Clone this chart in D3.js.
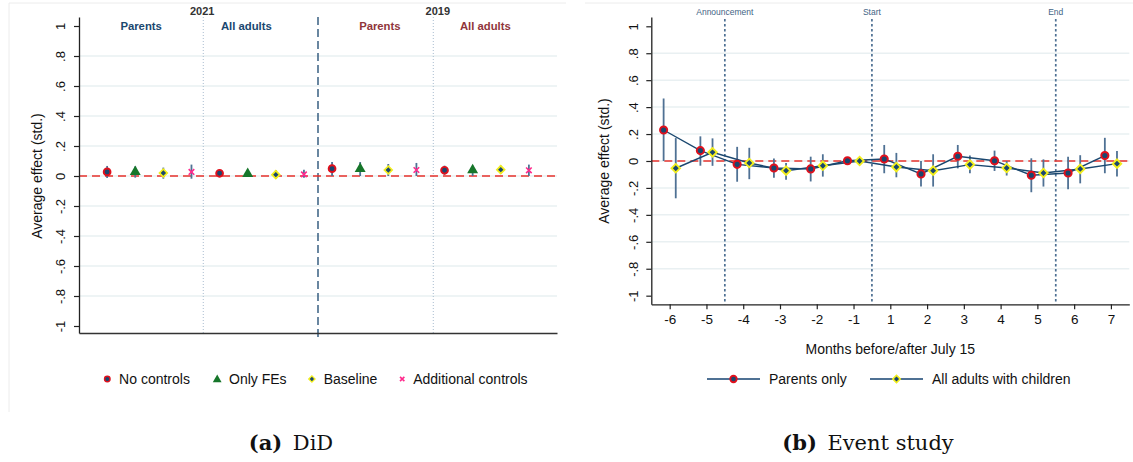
<!DOCTYPE html>
<html><head><meta charset="utf-8">
<script src="https://cdn.jsdelivr.net/npm/d3@7"></script>
<style>
body{margin:0;background:#fff;}
svg{display:block;font-family:"Liberation Sans",Arial,sans-serif;}
</style>
</head><body>
<svg id="c" width="1133" height="462"></svg>
<script>
// ---------- DATA: panel (a) DiD ----------
const specs = ["No controls", "Only FEs", "Baseline", "Additional controls"];
const groups = ["2021 Parents", "2021 All adults", "2019 Parents", "2019 All adults"];
const sectionLabels = ["Parents", "All adults", "Parents", "All adults"];
const sectionLabelPos = [2.21, 5.95, 10.7, 14.45];
const yearLabels = ["2021", "2019"];
const yearLabelPos = [4.38, 12.76];
const dividerPos = [4.42, 8.5, 12.6];
// estimates [group][spec]
const didEst = [[0.027, 0.033, 0.020, 0.027], [0.018, 0.020, 0.009, 0.011], [0.049, 0.053, 0.040, 0.040], [0.038, 0.044, 0.042, 0.038]];
const didLo  = [[-0.013, -0.011, -0.018, -0.018], [-0.005, 0.003, -0.018, -0.011], [0.000, 0.000, 0.000, 0.000], [0.009, 0.000, 0.016, 0.000]];
const didHi  = [[0.067, 0.064, 0.056, 0.076], [0.040, 0.035, 0.040, 0.042], [0.093, 0.093, 0.080, 0.087], [0.069, 0.069, 0.069, 0.076]];
const yTickVals = [-1, -0.8, -0.6, -0.4, -0.2, 0, 0.2, 0.4, 0.6, 0.8, 1];

// ---------- DATA: panel (b) Event study ----------
const months = [-6, -5, -4, -3, -2, -1, 1, 2, 3, 4, 5, 6, 7];
const parentsEst = [0.230, 0.077, -0.025, -0.052, -0.059, 0.002, 0.015, -0.096, 0.035, 0.002, -0.106, -0.089, 0.040];
const parentsLo  = [0.000, -0.035, -0.154, -0.124, -0.152, 0.002, -0.091, -0.190, -0.055, -0.074, -0.232, -0.210, -0.091];
const parentsHi  = [0.464, 0.183, 0.105, 0.019, 0.032, 0.002, 0.119, 0.000, 0.119, 0.077, 0.020, 0.032, 0.172];
const adultsEst  = [-0.054, 0.064, -0.015, -0.072, -0.035, 0.000, -0.045, -0.072, -0.027, -0.052, -0.089, -0.059, -0.020];
const adultsLo   = [-0.277, -0.036, -0.135, -0.140, -0.116, 0.000, -0.121, -0.190, -0.091, -0.108, -0.190, -0.166, -0.116];
const adultsHi   = [0.170, 0.168, 0.098, -0.015, 0.050, 0.000, 0.060, 0.050, 0.040, 0.000, 0.012, 0.043, 0.074];
const eventLines = ["Announcement", "Start", "End"];
const eventPos = [1.5, 5.5, 10.5];
const seriesNames = ["Parents only", "All adults with children"];

// ---------- STYLE ----------
const NAVY = "#1a476f", RED2019 = "#90353b", CI = "#4f7194", GRID = "#e9f0f2";
const ZERO = "#e8322c", GREEN = "#16762a", YELLOW = "#f2ee1c", PINK = "#ff2a8c", CIRC = "#e0101c";

const svg = d3.select("#c");
const fmtTick = d => { const r = Math.round(d * 10) / 10; if (r === 0) return "0"; return String(r).replace(/^(-?)0\./, "$1."); };

// ============ PANEL A ============
const xL = d3.scaleLinear().domain([0, 17]).range([79, 557]);
const yL = d3.scaleLinear().domain([-1.0467, 1.06]).range([333, 17]);
const gA = svg.append("g");

gA.append("path").attr("d", "M9,412 L9,3 L566,3").attr("fill", "none").attr("stroke", "#ececec").attr("stroke-width", 1);

gA.append("g").selectAll("line").data(yTickVals.filter(v => Math.abs(v) < 0.99)).join("line")
  .attr("x1", xL(0)).attr("x2", xL(17)).attr("y1", d => yL(d)).attr("y2", d => yL(d))
  .attr("stroke", GRID).attr("stroke-width", 1.5);

gA.append("g").selectAll("line").data(dividerPos).join("line")
  .attr("x1", d => xL(d)).attr("x2", d => xL(d))
  .attr("y1", 17).attr("y2", (d, i) => i === 1 ? 338 : 333)
  .attr("stroke", (d, i) => i === 1 ? NAVY : "#a9bccf")
  .attr("stroke-width", (d, i) => i === 1 ? 1.3 : 1)
  .attr("stroke-dasharray", (d, i) => i === 1 ? "8,4" : "1,2");

gA.append("line").attr("x1", xL(0)).attr("x2", xL(17)).attr("y1", yL(0)).attr("y2", yL(0))
  .attr("stroke", ZERO).attr("stroke-width", 1.5).attr("stroke-dasharray", "8,5");

const axL = gA.append("g").attr("transform", `translate(${xL(0)},0)`)
  .call(d3.axisLeft(yL).tickValues(yTickVals).tickSize(5).tickSizeOuter(0).tickFormat(fmtTick));
axL.selectAll("text").attr("x", 0).attr("dy", "0.35em").attr("text-anchor", "middle")
  .attr("transform", "translate(-19,0) rotate(-90)").attr("font-size", 13).attr("fill", "#111")
  .attr("font-family", "Liberation Sans, Arial, sans-serif");
axL.select(".domain").attr("stroke", "#222").attr("stroke-width", 1.3);
axL.selectAll(".tick line").attr("stroke", "#222").attr("stroke-width", 1.2);

const axLx = gA.append("g").attr("transform", `translate(0,${yL.range()[0]})`)
  .call(d3.axisBottom(xL).tickValues([]).tickSizeOuter(0));
axLx.select(".domain").attr("stroke", "#333").attr("stroke-width", 1.3);

gA.append("text").attr("transform", `translate(37,${yL(0)}) rotate(-90)`).attr("text-anchor", "middle")
  .attr("dy", "0.35em").attr("font-size", 14).attr("fill", "#111").text("Average effect (std.)");

gA.append("g").selectAll("text").data(yearLabels).join("text")
  .attr("x", (d, i) => xL(yearLabelPos[i])).attr("y", 15).attr("text-anchor", "middle")
  .attr("font-size", 11).attr("font-weight", "bold").attr("fill", "#333").text(d => d);
gA.append("g").selectAll("text").data(sectionLabels).join("text")
  .attr("x", (d, i) => xL(sectionLabelPos[i])).attr("y", 29.5).attr("text-anchor", "middle")
  .attr("font-size", 11.3).attr("font-weight", "bold").attr("fill", (d, i) => i < 2 ? NAVY : RED2019).text(d => d);

const didPts = [];
groups.forEach((g, gi) => specs.forEach((s, si) => didPts.push({ g: gi, s: si, pos: gi * 4 + si + 1, est: didEst[gi][si], lo: didLo[gi][si], hi: didHi[gi][si] })));

gA.append("g").selectAll("line").data(didPts).join("line")
  .attr("x1", d => xL(d.pos)).attr("x2", d => xL(d.pos)).attr("y1", d => yL(d.lo)).attr("y2", d => yL(d.hi))
  .attr("stroke", CI).attr("stroke-width", 1.8);

function drawMarker(sel, s, scale) {
  const k = scale || 1;
  if (s === 0) {
    sel.append("circle").attr("r", 3.4 * k).attr("fill", NAVY).attr("stroke", CIRC).attr("stroke-width", 1.9 * k);
  } else if (s === 1) {
    sel.append("path").attr("d", d3.symbol(d3.symbolTriangle, 52 * k * k)()).attr("transform", `translate(0,${0.8 * k})`).attr("fill", GREEN);
  } else if (s === 2) {
    sel.append("path").attr("d", d3.symbol(d3.symbolSquare, 30 * k * k)()).attr("transform", "rotate(45)")
      .attr("fill", NAVY).attr("stroke", YELLOW).attr("stroke-width", 1.7 * k);
  } else {
    sel.append("path").attr("d", d3.symbol(d3.symbolX, 22 * k * k)()).attr("fill", "none").attr("stroke", PINK).attr("stroke-width", 1.6);
  }
}
gA.append("g").selectAll("g").data(didPts).join("g")
  .attr("transform", d => `translate(${xL(d.pos)},${yL(d.est)})`)
  .each(function (d) { drawMarker(d3.select(this), d.s); });

const legAx = [107.3, 217.2, 311.9, 402.2];
const legA = gA.append("g").selectAll("g").data(specs).join("g")
  .attr("transform", (d, i) => `translate(${legAx[i]},379)`);
legA.each(function (d, i) { drawMarker(d3.select(this), i, 0.8); });
legA.append("text").attr("x", (d, i) => i === 3 ? 11 : 11.8).attr("dy", "0.35em").attr("font-size", 14).attr("fill", "#111").text(d => d);

const capA = svg.append("text").attr("x", 291).attr("y", 450).attr("text-anchor", "middle")
  .attr("font-family", "DejaVu Serif, Liberation Serif, serif").attr("font-size", 21).attr("fill", "#111");
capA.append("tspan").attr("font-weight", "bold").text("(a)");
capA.append("tspan").text("\u2002DiD");

// ============ PANEL B ============
const xR = d3.scaleLinear().domain([-0.5, 12.5]).range([651.3, 1129.3]);
const yR = d3.scaleLinear().domain([-1.064, 1.069]).range([304.3, 17]);
const gB = svg.append("g");
gB.append("line").attr("x1", 585).attr("x2", 1133).attr("y1", 3).attr("y2", 3).attr("stroke", "#ececec");

gB.append("g").selectAll("line").data(yTickVals.filter(v => Math.abs(v) < 0.99)).join("line")
  .attr("x1", xR(-0.5)).attr("x2", xR(12.5)).attr("y1", d => yR(d)).attr("y2", d => yR(d))
  .attr("stroke", GRID).attr("stroke-width", 1.5);

gB.append("g").selectAll("line").data(eventPos).join("line")
  .attr("x1", d => xR(d)).attr("x2", d => xR(d)).attr("y1", 19).attr("y2", yR.range()[0])
  .attr("stroke", "#4c6f92").attr("stroke-width", 1.7).attr("stroke-dasharray", "2.5,2.5");
gB.append("g").selectAll("text").data(eventLines).join("text")
  .attr("x", (d, i) => xR(eventPos[i])).attr("y", 15).attr("text-anchor", "middle")
  .attr("font-size", 8.5).attr("fill", "#3f6485").text(d => d);

gB.append("line").attr("x1", xR(-0.5)).attr("x2", xR(12.5)).attr("y1", yR(0)).attr("y2", yR(0))
  .attr("stroke", ZERO).attr("stroke-width", 1.5).attr("stroke-dasharray", "8,5");

const axR = gB.append("g").attr("transform", `translate(${xR(-0.5)},0)`)
  .call(d3.axisLeft(yR).tickValues(yTickVals).tickSize(5).tickSizeOuter(0).tickFormat(fmtTick));
axR.selectAll("text").attr("x", 0).attr("dy", "0.35em").attr("text-anchor", "middle")
  .attr("transform", "translate(-18,0) rotate(-90)").attr("font-size", 13).attr("fill", "#111")
  .attr("font-family", "Liberation Sans, Arial, sans-serif");
axR.select(".domain").attr("stroke", "#222").attr("stroke-width", 1.3);
axR.selectAll(".tick line").attr("stroke", "#222").attr("stroke-width", 1.2);

const axRx = gB.append("g").attr("transform", `translate(0,${yR.range()[0]})`)
  .call(d3.axisBottom(xR).tickValues(d3.range(months.length)).tickSize(5).tickSizeOuter(0).tickFormat(i => months[i]));
axRx.selectAll("text").attr("y", 10).attr("font-size", 13.5).attr("fill", "#111")
  .attr("font-family", "Liberation Sans, Arial, sans-serif");
axRx.select(".domain").attr("stroke", "#222").attr("stroke-width", 1.3);
axRx.selectAll(".tick line").attr("stroke", "#222").attr("stroke-width", 1.2);

gB.append("text").attr("transform", `translate(604,${yR(0)}) rotate(-90)`).attr("text-anchor", "middle")
  .attr("dy", "0.35em").attr("font-size", 14).attr("fill", "#111").text("Average effect (std.)");
gB.append("text").attr("x", (xR(-0.5) + xR(12.5)) / 2).attr("y", 354).attr("text-anchor", "middle")
  .attr("font-size", 14).attr("fill", "#111").text("Months before/after July 15");

const off = 0.165;
const pPts = months.map((m, i) => ({ p: i - off, est: parentsEst[i], lo: parentsLo[i], hi: parentsHi[i] }));
const aPts = months.map((m, i) => ({ p: i + off, est: adultsEst[i], lo: adultsLo[i], hi: adultsHi[i] }));

[pPts, aPts].forEach(pts => {
  gB.append("g").selectAll("line").data(pts.filter(d => d.hi - d.lo > 0.001)).join("line")
    .attr("x1", d => xR(d.p)).attr("x2", d => xR(d.p)).attr("y1", d => yR(d.lo)).attr("y2", d => yR(d.hi))
    .attr("stroke", CI).attr("stroke-width", 1.8);
});
const lineGen = d3.line().x(d => xR(d.p)).y(d => yR(d.est));
[pPts, aPts].forEach(pts => {
  gB.append("path").attr("d", lineGen(pts)).attr("fill", "none").attr("stroke", NAVY).attr("stroke-width", 1.4);
});
gB.append("g").selectAll("g").data(pPts).join("g")
  .attr("transform", d => `translate(${xR(d.p)},${yR(d.est)})`)
  .each(function () { drawMarker(d3.select(this), 0, 1.05); });
gB.append("g").selectAll("g").data(aPts).join("g")
  .attr("transform", d => `translate(${xR(d.p)},${yR(d.est)})`)
  .each(function () { drawMarker(d3.select(this), 2, 1.1); });

const legBx = [707, 870];
const legB = gB.append("g").selectAll("g").data(seriesNames).join("g")
  .attr("transform", (d, i) => `translate(${legBx[i]},379)`);
legB.append("line").attr("x1", 0).attr("x2", 53).attr("stroke", CI).attr("stroke-width", 1.8);
legB.each(function (d, i) { const g = d3.select(this).append("g").attr("transform", "translate(26.5,0)"); drawMarker(g, i === 0 ? 0 : 2, 0.95); });
legB.append("text").attr("x", 62).attr("dy", "0.35em").attr("font-size", 14).attr("fill", "#111").text(d => d);

const capB = svg.append("text").attr("x", 868).attr("y", 450).attr("text-anchor", "middle")
  .attr("font-family", "DejaVu Serif, Liberation Serif, serif").attr("font-size", 21).attr("fill", "#111");
capB.append("tspan").attr("font-weight", "bold").text("(b)");
capB.append("tspan").text("\u2002Event study");
</script>
</body></html>
